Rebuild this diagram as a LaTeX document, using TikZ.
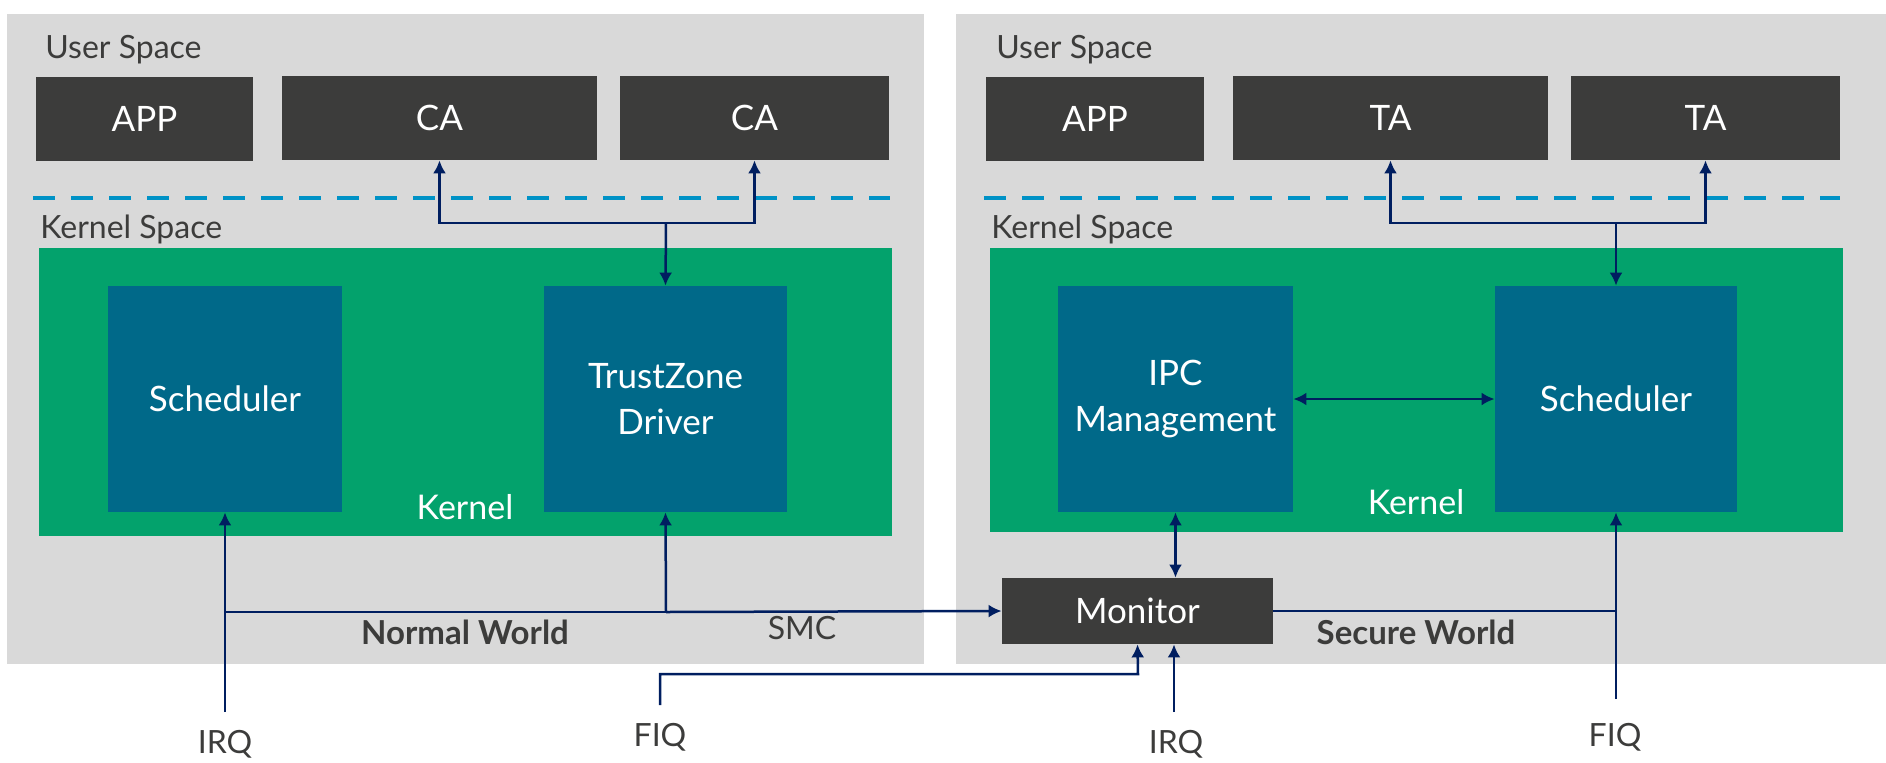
\documentclass[tikz,border=0pt]{standalone}
\usepackage{fontspec}
\setmainfont{Lato}
\usetikzlibrary{arrows.meta,fit}
\definecolor{pgray}{HTML}{D9D9D9}
\definecolor{dbox}{HTML}{3C3C3B}
\definecolor{kgreen}{HTML}{03A26C}
\definecolor{kblue}{HTML}{006989}
\definecolor{dashblue}{HTML}{0092C6}
\definecolor{navy}{HTML}{001E60}
\definecolor{lgray}{HTML}{3C3C3B}
\tikzset{
  panel/.style={fill=pgray, inner sep=0pt, outer sep=0pt},
  darkbox/.style={fill=dbox, inner sep=0pt},
  kernelbox/.style={fill=kgreen, inner sep=0pt},
  bluebox/.style={fill=kblue, inner sep=0pt},
  boxtxt/.style={text=white, align=center, inner sep=0pt, font=\fontsize{17.5}{23}\selectfont},
  lbl/.style={text=lgray, font=\fontsize{16}{19}\selectfont, inner sep=0pt},
  wlbl/.style={text=white, font=\fontsize{17}{20}\selectfont, inner sep=0pt},
  blbl/.style={text=lgray, font=\fontsize{16.5}{19}\selectfont\bfseries, inner sep=0pt},
  conn/.style={draw=navy, line width=1.25pt},
  arr/.style={conn, -{Latex[length=6.5pt,width=6.5pt]}},
  dblarr/.style={conn, {Latex[length=6.5pt,width=6.5pt]}-{Latex[length=6.5pt,width=6.5pt]}},
  sepline/.style={draw=dashblue, line width=2pt, dash pattern=on 11pt off 8pt}
}
\begin{document}
\begin{tikzpicture}[x=0.5pt,y=-0.5pt]
\useasboundingbox (0,0) rectangle (1886,762);
% panels
\node[panel, fit={(7,14) (924,664)}] (pL) {};
\node[panel, fit={(956,14) (1886,664)}] (pR) {};
% left world
\node[lbl, anchor=base west] (usL) at (45,58) {User Space};
\node[darkbox, fit={(36,77) (253,161)}, label={[boxtxt]center:APP}] (appL) {};
\node[darkbox, fit={(282,76) (597,160)}, label={[boxtxt]center:CA}] (ca1) {};
\node[darkbox, fit={(620,76) (889,160)}, label={[boxtxt]center:CA}] (ca2) {};
\coordinate (dsL1) at (33,198);
\coordinate (dsL2) at (890,198);
\draw[sepline] (dsL1) -- (dsL2);
\node[lbl, anchor=base west] (ksL) at (40,238) {Kernel Space};
\node[kernelbox, fit={(39,248) (892,536)}] (kL) {};
\node[bluebox, fit={(108,286) (342,512)}, label={[boxtxt]center:Scheduler}] (schL) {};
\node[bluebox, fit={(544,286) (787,512)}, label={[boxtxt]center:TrustZone\\Driver}] (tz) {};
\node[wlbl, anchor=base] (kLlbl) at (465,519) {Kernel};
\node[blbl, anchor=base] (nw) at (465,644) {Normal World};
\node[lbl, anchor=base] (smc) at (802,639) {SMC};
% right world
\node[lbl, anchor=base west] (usR) at (996,58) {User Space};
\node[darkbox, fit={(986,77) (1204,161)}, label={[boxtxt]center:APP}] (appR) {};
\node[darkbox, fit={(1233,76) (1548,160)}, label={[boxtxt]center:TA}] (ta1) {};
\node[darkbox, fit={(1571,76) (1840,160)}, label={[boxtxt]center:TA}] (ta2) {};
\coordinate (dsR1) at (984,198);
\coordinate (dsR2) at (1840,198);
\draw[sepline] (dsR1) -- (dsR2);
\node[lbl, anchor=base west] (ksR) at (991,238) {Kernel Space};
\node[kernelbox, fit={(990,248) (1843,532)}] (kR) {};
\node[bluebox, fit={(1058,286) (1293,512)}, label={[boxtxt]center:IPC\\Management}] (ipc) {};
\node[bluebox, fit={(1495,286) (1737,512)}, label={[boxtxt]center:Scheduler}] (schR) {};
\node[wlbl, anchor=base] (kRlbl) at (1416,514) {Kernel};
\node[blbl, anchor=base] (sw) at (1416,644) {Secure World};
% monitor
\node[darkbox, fit={(1002,578) (1273,644)}, label={[boxtxt]center:Monitor}] (mon) {};
% bottom labels
\node[lbl, anchor=base] (irqL) at (225,753) {IRQ};
\node[lbl, anchor=base] (fiqL) at (660,746) {FIQ};
\node[lbl, anchor=base] (irqR) at (1176,753) {IRQ};
\node[lbl, anchor=base] (fiqR) at (1615,746) {FIQ};
% connectors: user space <-> driver
\coordinate (jN) at (666,223);
\draw[dblarr] (ca1.south) |- (jN) -| (ca2.south);
\draw[arr] (jN) -- (tz.north);
\coordinate (jS) at (1616,223);
\draw[dblarr] (ta1.south) |- (jS) -| (ta2.south);
\draw[arr] (jS) -- (schR.north);
% normal world bottom
\coordinate (irqLend) at (225,712);
\coordinate (bL) at (225,612);
\coordinate (bTZ) at (666,612);
\draw[arr] (irqLend) -- (schL.south);
\draw[conn] (bL) -- (bTZ);
\draw[arr] (bTZ) -- (tz.south);
\draw[arr] (bTZ) -- (mon.west);
% FIQ left to monitor
\coordinate (fiqLend) at (660,705);
\coordinate (fiqLturn) at (1138,674);
\draw[arr] (fiqLend) |- (fiqLturn) -- (mon.south);
% IRQ right
\coordinate (irqRend) at (1174,712);
\draw[arr] (irqRend) -- (irqRend |- mon.south);
% IPC <-> monitor, IPC <-> scheduler
\draw[dblarr] (ipc.south) -- (ipc.south |- mon.north);
\draw[dblarr] (ipc.east) -- (schR.west);
% secure world bottom
\coordinate (fiqRend) at (1616,699);
\draw[conn] (mon.east) -- (schR.south |- mon.east);
\draw[arr] (fiqRend) -- (schR.south);
\end{tikzpicture}
\end{document}
